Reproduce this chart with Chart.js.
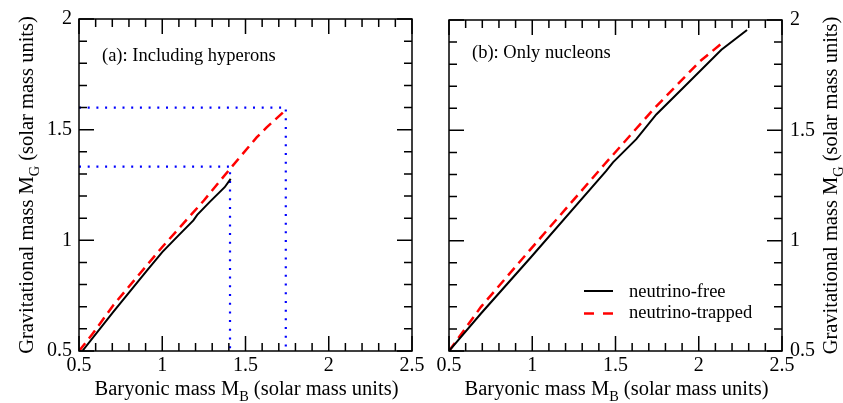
<!DOCTYPE html>
<html>
<head>
<meta charset="utf-8">
<script src="https://cdn.jsdelivr.net/npm/chart.js@4/dist/chart.umd.min.js"></script>
<style>
html,body{margin:0;padding:0;background:#fff;}
#wrap{position:relative;width:843px;height:403px;overflow:hidden;background:#fff;}
canvas{position:absolute;left:0;top:0;}
#probe{position:absolute;left:-1000px;top:0;font-family:"Liberation Serif";font-size:20px;}
</style>
</head>
<body>
<div id="wrap">
<canvas id="c1" width="843" height="403"></canvas>
<canvas id="c2" width="843" height="403"></canvas>
</div>
<div id="probe">Gravitational 0.5 M<sub>B</sub></div>
<script>
// ---- tick labels ----
const xTickValues = [0.5, 1, 1.5, 2, 2.5];
const yTickValues = [0.5, 1, 1.5, 2];

// ---- panel (a): including hyperons ----
const hypFreeMB = [0.52, 0.706, 0.904, 1.0, 1.095, 1.187, 1.21, 1.287, 1.375, 1.411];
const hypFreeMG = [0.50, 0.677, 0.860, 0.947, 1.020, 1.090, 1.115, 1.175, 1.240, 1.278];
const hypTrapMB = [0.50, 0.584, 0.706, 1.0, 1.25, 1.407, 1.567, 1.627, 1.737];
const hypTrapMG = [0.50, 0.580, 0.707, 0.970, 1.180, 1.323, 1.465, 1.510, 1.586];
const guideLowMB  = [0.5, 1.407, 1.407];
const guideLowMG  = [1.333, 1.333, 0.5];
const guideHighMB = [0.5, 1.742, 1.742];
const guideHighMG = [1.60, 1.60, 0.5];

// ---- panel (b): only nucleons ----
const nucFreeMB = [0.5, 0.692, 0.992, 1.443, 1.485, 1.625, 1.745, 1.916, 2.136, 2.29];
const nucFreeMG = [0.5, 0.670, 0.925, 1.315, 1.355, 1.460, 1.572, 1.700, 1.865, 1.955];
const nucTrapMB = [0.5, 0.692, 0.992, 1.433, 1.725, 2.006, 2.136];
const nucTrapMG = [0.5, 0.700, 0.963, 1.345, 1.593, 1.812, 1.893];

const seriesNames = ['neutrino-free', 'neutrino-trapped'];
const panelLabels = ['(a): Including hyperons', '(b): Only nucleons'];

const SERIF = '"Liberation Serif", "DejaVu Serif", serif';

function pts(xs, ys){ return xs.map((x,i)=>({x:x, y:ys[i]})); }

function freeDs(xs, ys){
  return {label:seriesNames[0], data:pts(xs,ys), borderColor:'#000000', borderWidth:2,
    pointRadius:0, fill:false, tension:0};
}
function trapDs(xs, ys){
  return {label:seriesNames[1], data:pts(xs,ys), borderColor:'#ff0000', borderWidth:2.5,
    borderDash:[10,6], pointRadius:0, fill:false, tension:0};
}
function guideDs(xs, ys){
  return {label:'guide', data:pts(xs,ys), borderColor:'#0000ff', borderWidth:2.2,
    borderDash:[2,6.7], pointRadius:0, fill:false, tension:0};
}

function drawParts(ctx, parts, size){
  const subSize = size*0.7, subOff = 6;
  let total = 0;
  const widths = parts.map(p=>{
    ctx.font = (p[1]?subSize:size)+'px '+SERIF;
    const w = ctx.measureText(p[0]).width; total += w; return w;
  });
  let x = -total/2;
  parts.forEach((p,i)=>{
    ctx.font = (p[1]?subSize:size)+'px '+SERIF;
    ctx.textAlign = 'left'; ctx.textBaseline = 'alphabetic';
    ctx.fillText(p[0], x, p[1]?subOff:0);
    x += widths[i];
  });
}

function framePlugin(cfg){
  return {
    id:'frame'+cfg.idx,
    afterDraw(chart){
      const ctx = chart.ctx, a = chart.chartArea;
      const xs = chart.scales.x, ys = chart.scales.y;
      ctx.save();
      ctx.strokeStyle = '#000'; ctx.lineWidth = 1.5; ctx.setLineDash([]);
      ctx.strokeRect(a.left, a.top, a.right-a.left, a.bottom-a.top);
      ctx.beginPath();
      for (let i=5;i<=25;i++){
        const v = i/10, len = (i%5===0)?15:8, px = xs.getPixelForValue(v);
        ctx.moveTo(px, a.bottom); ctx.lineTo(px, a.bottom-len);
        ctx.moveTo(px, a.top); ctx.lineTo(px, a.top+len);
      }
      for (let i=5;i<=20;i++){
        const v = i/10, len = (i%5===0)?15:8, py = ys.getPixelForValue(v);
        ctx.moveTo(a.left, py); ctx.lineTo(a.left+len, py);
        ctx.moveTo(a.right, py); ctx.lineTo(a.right-len, py);
      }
      ctx.stroke();
      ctx.fillStyle = '#000';
      ctx.save();
      ctx.translate((a.left+a.right)/2+1, 395);
      drawParts(ctx, [['Baryonic mass M',false],['B',true],[' (solar mass units)',false]], 20.5);
      ctx.restore();
      ctx.save();
      ctx.translate(cfg.yTitleX, (a.top+a.bottom)/2);
      ctx.rotate(-Math.PI/2);
      drawParts(ctx, [['Gravitational mass M',false],['G',true],[' (solar mass units)',false]], 20.5);
      ctx.restore();
      ctx.font = '18.5px '+SERIF; ctx.textAlign='left'; ctx.textBaseline='alphabetic';
      ctx.fillText(panelLabels[cfg.idx], cfg.labelX, cfg.labelY);
      if (cfg.legend){
        const ds = chart.data.datasets;
        const rows = [[ds[0], 291, 296.5],[ds[1], 313.5, 318]];
        rows.forEach(r=>{
          ctx.strokeStyle = r[0].borderColor; ctx.lineWidth = r[0].borderWidth;
          ctx.setLineDash(r[0].borderDash ? [10,9] : []);
          ctx.beginPath(); ctx.moveTo(584, r[1]); ctx.lineTo(613, r[1]); ctx.stroke();
          ctx.setLineDash([]);
          ctx.fillStyle = '#000';
          ctx.font = '18.5px '+SERIF;
          ctx.fillText(r[0].label, 629, r[2]);
        });
      }
      ctx.restore();
    }
  };
}

function scales(yPos, yWidth, yPad){
  const tickFont = {family:SERIF, size:20};
  const fmt = v => String(v);
  return {
    x:{type:'linear', min:0.5, max:2.5,
      afterBuildTicks:s=>{ s.ticks = xTickValues.map(v=>({value:v})); },
      afterFit:s=>{ s.height = 52; },
      grid:{display:false, drawTicks:false, tickLength:0}, border:{display:false},
      ticks:{font:tickFont, color:'#000', padding:3, maxRotation:0, autoSkip:false, callback:fmt}},
    y:{type:'linear', min:0.5, max:2, position:yPos,
      afterBuildTicks:s=>{ s.ticks = yTickValues.map(v=>({value:v})); },
      afterFit:s=>{ s.width = yWidth; },
      grid:{display:false, drawTicks:false, tickLength:0}, border:{display:false},
      ticks:{font:tickFont, color:'#000', padding:yPad, autoSkip:false, callback:fmt}}
  };
}

function build(){
  Chart.defaults.font.family = SERIF;
  const common = {responsive:false, animation:false, devicePixelRatio:1,
    plugins:{legend:{display:false}, tooltip:{enabled:false}}, events:[]};

  new Chart(document.getElementById('c1'), {
    type:'line',
    data:{datasets:[freeDs(hypFreeMB,hypFreeMG), trapDs(hypTrapMB,hypTrapMG),
      guideDs(guideLowMB,guideLowMG), guideDs(guideHighMB,guideHighMG)]},
    options:Object.assign({}, common, {
      layout:{padding:{left:0, top:18, right:431, bottom:0}},
      scales:scales('left', 79, 7)
    }),
    plugins:[framePlugin({idx:0, yTitleX:33, labelX:102, labelY:61, legend:false})]
  });

  new Chart(document.getElementById('c2'), {
    type:'line',
    data:{datasets:[freeDs(nucFreeMB,nucFreeMG), trapDs(nucTrapMB,nucTrapMG)]},
    options:Object.assign({}, common, {
      layout:{padding:{left:449, top:18, right:0, bottom:0}},
      scales:scales('right', 61, 8)
    }),
    plugins:[framePlugin({idx:1, yTitleX:837, labelX:472, labelY:57.5, legend:true})]
  });
}

let built = false;
function go(){ if (!built){ built = true; build(); } }
if (document.fonts && document.fonts.load){
  Promise.all([document.fonts.load('20px "Liberation Serif"'), document.fonts.ready])
    .then(go, go);
  setTimeout(go, 1500);
} else { go(); }
</script>
</body>
</html>
